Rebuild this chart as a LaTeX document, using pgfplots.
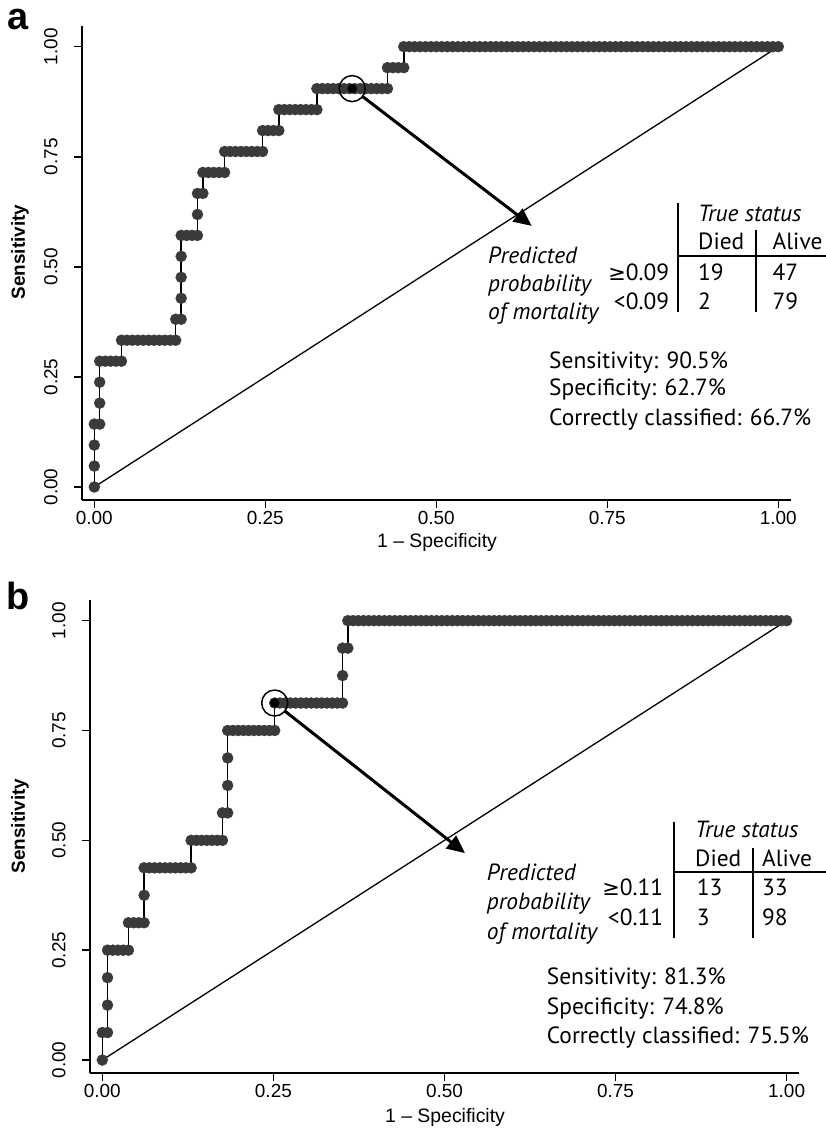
\documentclass[border=0pt]{standalone}
\usepackage{pgfplots}
\pgfplotsset{compat=1.18}
\usetikzlibrary{arrows.meta}
\usepackage{fontspec}
\setmainfont{Liberation Sans}
\newfontfamily\ann{PT Sans}
\newfontfamily\dejavu{DejaVu Sans}
\definecolor{mk}{HTML}{3A3A3A}

\pgfplotstableread[row sep=\\]{
x y\\
0 0\\ 0 .0476\\ 0 .0952\\ 0 .1429\\ .0079 .1429\\
.0079 .1905\\ .0079 .2381\\ .0079 .2857\\ .0159 .2857\\ .0238 .2857\\ .0317 .2857\\ .0397 .2857\\
.0397 .3333\\ .0476 .3333\\ .0556 .3333\\ .0635 .3333\\ .0714 .3333\\ .0794 .3333\\ .0873 .3333\\ .0952 .3333\\ .1032 .3333\\ .1111 .3333\\ .1190 .3333\\
.1190 .3810\\ .1270 .3810\\
.1270 .4286\\ .1270 .4762\\ .1270 .5238\\ .1270 .5714\\ .1349 .5714\\ .1429 .5714\\ .1508 .5714\\
.1508 .6190\\ .1508 .6667\\ .1587 .6667\\
.1587 .7143\\ .1667 .7143\\ .1746 .7143\\ .1825 .7143\\ .1905 .7143\\
.1905 .7619\\ .1984 .7619\\ .2063 .7619\\ .2143 .7619\\ .2222 .7619\\ .2302 .7619\\ .2381 .7619\\ .2460 .7619\\
.2460 .8095\\ .2540 .8095\\ .2619 .8095\\ .2698 .8095\\
.2698 .8571\\ .2778 .8571\\ .2857 .8571\\ .2937 .8571\\ .3016 .8571\\ .3095 .8571\\ .3175 .8571\\ .3254 .8571\\
.3254 .9048\\ .3333 .9048\\ .3413 .9048\\ .3492 .9048\\ .3571 .9048\\ .3651 .9048\\ .3730 .9048\\ .3810 .9048\\ .3889 .9048\\ .3968 .9048\\ .4048 .9048\\ .4127 .9048\\ .4206 .9048\\ .4286 .9048\\
.4286 .9524\\ .4365 .9524\\ .4444 .9524\\ .4524 .9524\\
.4524 1\\ .4603 1\\ .4683 1\\ .4762 1\\ .4841 1\\ .4921 1\\ .5 1\\ .5079 1\\ .5159 1\\ .5238 1\\ .5317 1\\ .5397 1\\ .5476 1\\ .5556 1\\ .5635 1\\
.5714 1\\ .5794 1\\ .5873 1\\ .5952 1\\ .6032 1\\ .6111 1\\ .6190 1\\ .6270 1\\ .6349 1\\ .6429 1\\ .6508 1\\ .6587 1\\ .6667 1\\ .6746 1\\ .6825 1\\
.6905 1\\ .6984 1\\ .7063 1\\ .7143 1\\ .7222 1\\ .7302 1\\ .7381 1\\ .7460 1\\ .7540 1\\ .7619 1\\ .7698 1\\ .7778 1\\ .7857 1\\ .7937 1\\ .8016 1\\
.8095 1\\ .8175 1\\ .8254 1\\ .8333 1\\ .8413 1\\ .8492 1\\ .8571 1\\ .8651 1\\ .8730 1\\ .8810 1\\ .8889 1\\ .8968 1\\ .9048 1\\ .9127 1\\ .9206 1\\
.9286 1\\ .9365 1\\ .9444 1\\ .9524 1\\ .9603 1\\ .9683 1\\ .9762 1\\ .9841 1\\ .9921 1\\ 1 1\\
}\rocA

\pgfplotstableread[row sep=\\]{
x y\\
0 0\\ 0 .0625\\ .0076 .0625\\
.0076 .125\\ .0076 .1875\\ .0076 .25\\ .0153 .25\\ .0229 .25\\ .0305 .25\\ .0382 .25\\
.0382 .3125\\ .0458 .3125\\ .0534 .3125\\ .0611 .3125\\
.0611 .375\\ .0611 .4375\\ .0687 .4375\\ .0763 .4375\\ .0840 .4375\\ .0916 .4375\\ .0992 .4375\\ .1069 .4375\\ .1145 .4375\\ .1221 .4375\\ .1298 .4375\\
.1298 .5\\ .1374 .5\\ .1450 .5\\ .1527 .5\\ .1603 .5\\ .1679 .5\\ .1756 .5\\
.1756 .5625\\ .1832 .5625\\
.1832 .625\\ .1832 .6875\\ .1832 .75\\ .1908 .75\\ .1985 .75\\ .2061 .75\\ .2137 .75\\ .2214 .75\\ .2290 .75\\ .2366 .75\\ .2443 .75\\ .2519 .75\\
.2519 .8125\\ .2595 .8125\\ .2672 .8125\\ .2748 .8125\\ .2824 .8125\\ .2901 .8125\\ .2977 .8125\\ .3053 .8125\\ .3130 .8125\\ .3206 .8125\\ .3282 .8125\\ .3359 .8125\\ .3435 .8125\\ .3511 .8125\\
.3511 .875\\ .3511 .9375\\ .3588 .9375\\
.3588 1\\ .3664 1\\ .3740 1\\ .3817 1\\ .3893 1\\ .3969 1\\ .4046 1\\ .4122 1\\ .4198 1\\ .4275 1\\ .4351 1\\ .4427 1\\ .4504 1\\ .4580 1\\ .4656 1\\ .4733 1\\
.4809 1\\ .4885 1\\ .4962 1\\ .5038 1\\ .5115 1\\ .5191 1\\ .5267 1\\ .5344 1\\ .5420 1\\ .5496 1\\ .5573 1\\ .5649 1\\ .5725 1\\ .5802 1\\ .5878 1\\ .5954 1\\
.6031 1\\ .6107 1\\ .6183 1\\ .6260 1\\ .6336 1\\ .6412 1\\ .6489 1\\ .6565 1\\ .6641 1\\ .6718 1\\ .6794 1\\ .6870 1\\ .6947 1\\ .7023 1\\ .7099 1\\ .7176 1\\
.7252 1\\ .7328 1\\ .7405 1\\ .7481 1\\ .7557 1\\ .7634 1\\ .7710 1\\ .7786 1\\ .7863 1\\ .7939 1\\ .8015 1\\ .8092 1\\ .8168 1\\ .8244 1\\ .8321 1\\ .8397 1\\
.8473 1\\ .8550 1\\ .8626 1\\ .8702 1\\ .8779 1\\ .8855 1\\ .8931 1\\ .9008 1\\ .9084 1\\ .9160 1\\ .9237 1\\ .9313 1\\ .9389 1\\ .9466 1\\ .9542 1\\ .9618 1\\
.9695 1\\ .9771 1\\ .9847 1\\ .9924 1\\ 1 1\\
}\rocB

\pgfplotsset{rocaxis/.style={
  scale only axis,
  xmin=-0.018, xmax=1.0181, ymin=-0.0295, ymax=1.047,
  axis x line*=bottom, axis y line*=left,
  axis line style={line width=1.8bp},
  xtick={0,0.25,0.5,0.75,1}, ytick={0,0.25,0.5,0.75,1},
  xticklabels={0.00,0.25,0.50,0.75,1.00},
  yticklabels={0.00,0.25,0.50,0.75,1.00},
  tick align=outside, major tick length=8bp,
  tick style={line width=1.5bp, black},
  tick label style={font=\fontsize{19}{22}\selectfont},
  yticklabel style={rotate=90, anchor=south},
  yticklabel shift=13bp,
  clip=false,
},
rocline/.style={black, line width=1.5bp, mark=*, mark size=5.5bp,
  mark options={fill=mk, draw=mk, line width=0.4bp}},
}

\newcommand{\annf}{\ann\fontsize{23.5}{27}\selectfont}

\begin{document}
\begin{tikzpicture}
\path[use as bounding box] (0,0) rectangle (826bp,1148bp);

% ---------- panel a ----------
\begin{axis}[rocaxis, at={(82bp,648bp)}, anchor=south west, width=708.7bp, height=474bp]
\addplot[rocline] table[x=x, y=y] {\rocA};
\addplot[black, line width=1.3bp] coordinates {(0,0) (1,1)};
\addplot[only marks, mark=*, mark size=4.5bp, black] coordinates {(0.377,0.9048)};
\addplot[only marks, mark=o, mark size=13bp, mark options={line width=1.5bp}, black] coordinates {(0.377,0.9048)};
\addplot[black, line width=3bp, shorten <=13bp, -{Triangle[length=18bp,width=16bp]}] coordinates {(0.377,0.9048) (0.6395,0.593)};
\end{axis}

% ---------- panel b ----------
\begin{axis}[rocaxis, at={(90bp,75bp)}, anchor=south west, width=709bp, height=473bp]
\addplot[rocline] table[x=x, y=y] {\rocB};
\addplot[black, line width=1.3bp] coordinates {(0,0) (1,1)};
\addplot[only marks, mark=*, mark size=4.5bp, black] coordinates {(0.2519,0.8125)};
\addplot[only marks, mark=o, mark size=13bp, mark options={line width=1.5bp}, black] coordinates {(0.2519,0.8125)};
\addplot[black, line width=3bp, shorten <=13bp, -{Triangle[length=18bp,width=16bp]}] coordinates {(0.2519,0.8125) (0.530,0.471)};
\end{axis}

% ---------- labels a ----------
\node[font=\bfseries\fontsize{38}{40}\selectfont] at (18bp,1128bp) {a};
\node[font=\bfseries\fontsize{19}{22}\selectfont, rotate=90] at (20bp,896bp) {Sensitivity};
\node[font=\fontsize{19.5}{22}\selectfont] at (437bp,606bp) {1 -- Specificity};

% ---------- labels b ----------
\node[font=\bfseries\fontsize{38}{40}\selectfont] at (18bp,552bp) {b};
\node[font=\bfseries\fontsize{19}{22}\selectfont, rotate=90] at (20bp,322bp) {Sensitivity};
\node[font=\fontsize{19.5}{22}\selectfont] at (445bp,31bp) {1 -- Specificity};

% ---------- annotation a ----------
\begin{scope}[every node/.style={inner sep=0pt, font=\annf}]
\node[anchor=base west] at (488bp,884bp) {\itshape Predicted};
\node[anchor=base west] at (488bp,856.3bp) {\itshape probability};
\node[anchor=base west] at (488bp,828.7bp) {\itshape of mortality};
\node[anchor=base west] at (698bp,926.3bp) {\itshape True status};
\node[anchor=base west] at (698bp,898bp) {Died};
\node[anchor=base west] at (772.5bp,898bp) {Alive};
\node[anchor=base east] at (669.3bp,867.3bp) {{\dejavu\fontsize{21}{24}\selectfont ≥}0.09};
\node[anchor=base east] at (669.3bp,838.7bp) {<0.09};
\node[anchor=base west] at (698bp,867.3bp) {19};
\node[anchor=base west] at (698bp,838.7bp) {2};
\node[anchor=base west] at (772.5bp,867.3bp) {47};
\node[anchor=base west] at (772.5bp,838.7bp) {79};
\node[anchor=base west] at (549bp,779.7bp) {Sensitivity: 90.5\%};
\node[anchor=base west] at (549bp,752.3bp) {Specificity: 62.7\%};
\node[anchor=base west] at (549bp,722.3bp) {Correctly classified: 66.7\%};
\end{scope}
\draw[line width=1.8bp] (678.3bp,945bp) -- (678.3bp,836.3bp);
\draw[line width=1.8bp] (678.3bp,892.3bp) -- (826bp,892.3bp);
\draw[line width=1.8bp] (755.7bp,918bp) -- (755.7bp,836.3bp);

% ---------- annotation b ----------
\begin{scope}[every node/.style={inner sep=0pt, font=\annf}]
\node[anchor=base west] at (486.7bp,267.3bp) {\itshape Predicted};
\node[anchor=base west] at (486.7bp,238bp) {\itshape probability};
\node[anchor=base west] at (486.7bp,208bp) {\itshape of mortality};
\node[anchor=base west] at (695bp,310.7bp) {\itshape True status};
\node[anchor=base west] at (695bp,281.3bp) {Died};
\node[anchor=base west] at (762bp,281.3bp) {Alive};
\node[anchor=base east] at (663.3bp,252bp) {{\dejavu\fontsize{21}{24}\selectfont ≥}0.11};
\node[anchor=base east] at (663.3bp,222.3bp) {<0.11};
\node[anchor=base west] at (696.7bp,252bp) {13};
\node[anchor=base west] at (696.7bp,222.3bp) {3};
\node[anchor=base west] at (762bp,252bp) {33};
\node[anchor=base west] at (762bp,222.3bp) {98};
\node[anchor=base west] at (546.7bp,163bp) {Sensitivity: 81.3\%};
\node[anchor=base west] at (546.7bp,133bp) {Specificity: 74.8\%};
\node[anchor=base west] at (546.7bp,104bp) {Correctly classified: 75.5\%};
\end{scope}
\draw[line width=1.8bp] (674bp,326.3bp) -- (674bp,209.7bp);
\draw[line width=1.8bp] (674bp,275.7bp) -- (826bp,275.7bp);
\draw[line width=1.8bp] (753.3bp,300bp) -- (753.3bp,209.7bp);
\end{tikzpicture}
\end{document}
